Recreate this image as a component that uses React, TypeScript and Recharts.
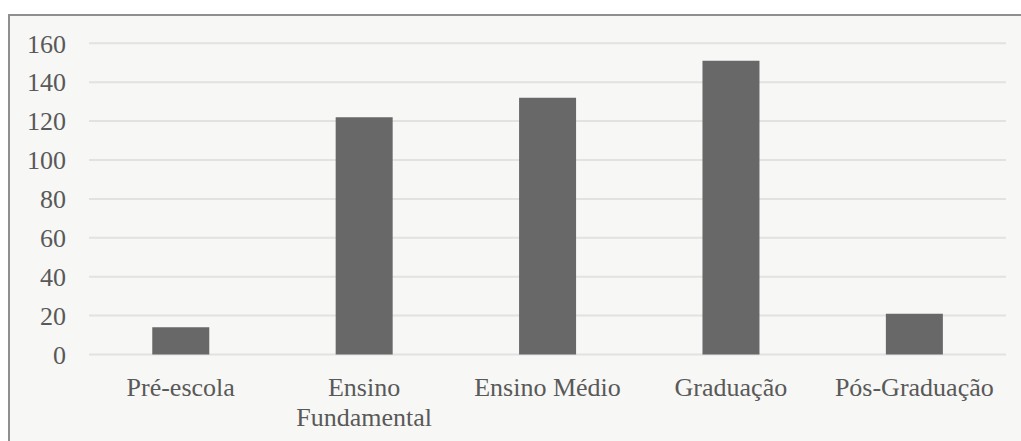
import React from "react";
import { BarChart, Bar, XAxis, YAxis, CartesianGrid } from "recharts";

// Education levels and counts
const categories = ["Pré-escola", "Ensino Fundamental", "Ensino Médio", "Graduação", "Pós-Graduação"];
const counts = [14, 122, 132, 151, 21];
const tickLabels = [["Pré-escola"], ["Ensino", "Fundamental"], ["Ensino Médio"], ["Graduação"], ["Pós-Graduação"]];
const yTicks = [0, 20, 40, 60, 80, 100, 120, 140, 160];

const data = categories.map((name, i) => ({ name, value: counts[i] }));

const FONT = "'Liberation Serif', 'Times New Roman', Times, serif";
const TEXT = "#595959";

const CategoryTick = (props: any) => {
  const { x, y, payload } = props;
  const idx = categories.indexOf(payload.value);
  const lines = tickLabels[idx] || [String(payload.value)];
  return (
    <text
      x={x}
      y={y + 41}
      textAnchor="middle"
      fill={TEXT}
      style={{ fontFamily: FONT, fontSize: 26 }}
    >
      {lines.map((line, i) => (
        <tspan key={i} x={x} dy={i === 0 ? 0 : 30}>
          {line}
        </tspan>
      ))}
    </text>
  );
};

const ValueTick = (props: any) => {
  const { x, y, payload } = props;
  return (
    <text
      x={x}
      y={y}
      dy={9.2}
      textAnchor="end"
      fill={TEXT}
      style={{ fontFamily: FONT, fontSize: 26 }}
    >
      {payload.value}
    </text>
  );
};

export default function App() {
  return (
    <div
      style={{
        position: "absolute",
        left: 0,
        top: 0,
        width: 1021,
        height: 441,
        overflow: "hidden",
        background: "#ffffff",
        fontFamily: FONT,
      }}
    >
      <div
        style={{
          position: "absolute",
          left: 8,
          top: 14,
          width: 1100,
          height: 500,
          border: "2px solid #8f8f8f",
          background: "#f7f7f5",
        }}
      />
      <div style={{ position: "absolute", left: 0, top: 0 }}>
        <BarChart
          width={1021}
          height={441}
          data={data}
          margin={{ top: 43.3, right: 15, left: 0, bottom: 0 }}
          barCategoryGap="34.5%"
          style={{ fontFamily: FONT }}
        >
          <CartesianGrid vertical={false} stroke="#e2e2e2" strokeWidth={2} />
          <XAxis
            dataKey="name"
            height={86.5}
            axisLine={false}
            tickLine={false}
            tickSize={0}
            tickMargin={0}
            interval={0}
            tick={<CategoryTick />}
          />
          <YAxis
            width={89}
            domain={[0, 160]}
            ticks={yTicks}
            axisLine={false}
            tickLine={false}
            tickSize={0}
            tickMargin={23}
            tick={<ValueTick />}
          />
          <Bar dataKey="value" fill="#686868" isAnimationActive={false} />
        </BarChart>
      </div>
    </div>
  );
}
